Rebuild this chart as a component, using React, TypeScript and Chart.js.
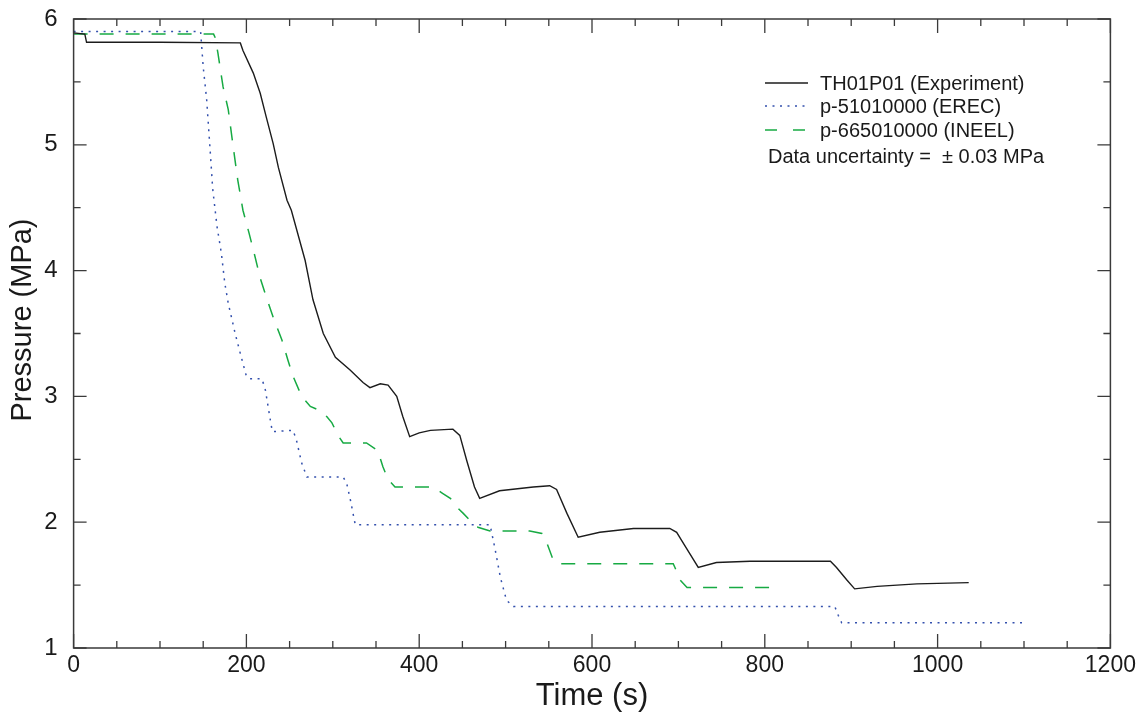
import { useEffect, useRef } from "react";
import { Chart, registerables } from "chart.js";

Chart.register(...registerables);

// ---- Data ----
const expTime = [0, 13, 15, 100, 193, 196, 208, 216, 223, 231, 237, 247, 252, 268, 277, 289, 303, 320, 335, 343, 355, 364, 374, 381, 389, 400, 413, 439, 447, 455, 464, 470, 493, 532, 551, 559, 571, 584, 609, 648, 690, 698, 706, 723, 744, 783, 876, 883, 895, 904, 930, 976, 1036];
const expPressure = [5.89, 5.88, 5.815, 5.815, 5.81, 5.75, 5.57, 5.41, 5.22, 5.01, 4.82, 4.56, 4.48, 4.08, 3.77, 3.5, 3.31, 3.21, 3.11, 3.07, 3.1, 3.09, 3.0, 2.84, 2.68, 2.71, 2.73, 2.74, 2.69, 2.49, 2.28, 2.19, 2.25, 2.28, 2.29, 2.26, 2.07, 1.88, 1.92, 1.95, 1.95, 1.92, 1.83, 1.64, 1.68, 1.69, 1.69, 1.64, 1.54, 1.47, 1.49, 1.51, 1.52];

const erecTime = [0, 147, 150, 154, 158, 161, 166, 171, 175, 179, 187, 193, 200, 204, 218, 222, 227, 230, 254, 258, 264, 270, 312, 316, 320, 326, 482, 488, 494, 501, 509, 881, 885, 889, 1100];
const erecPressure = [5.9, 5.9, 5.62, 5.36, 4.96, 4.65, 4.35, 4.14, 3.9, 3.74, 3.5, 3.34, 3.16, 3.14, 3.14, 3.05, 2.84, 2.72, 2.73, 2.65, 2.47, 2.36, 2.36, 2.31, 2.19, 1.98, 1.98, 1.78, 1.56, 1.38, 1.33, 1.33, 1.26, 1.2, 1.2];

const ineelTime = [0, 162, 164, 167, 173, 179, 185, 190, 196, 203, 210, 216, 223, 231, 241, 248, 254, 264, 274, 281, 293, 299, 306, 312, 339, 352, 358, 364, 372, 416, 427, 436, 445, 451, 461, 468, 482, 528, 542, 548, 554, 559, 694, 696, 702, 710, 815];
const ineelPressure = [5.88, 5.88, 5.85, 5.73, 5.46, 5.28, 4.97, 4.72, 4.48, 4.3, 4.11, 3.94, 3.79, 3.63, 3.45, 3.29, 3.16, 3.0, 2.92, 2.9, 2.84, 2.79, 2.69, 2.63, 2.63, 2.57, 2.44, 2.34, 2.28, 2.28, 2.23, 2.19, 2.11, 2.07, 2.0, 1.96, 1.93, 1.93, 1.91, 1.83, 1.72, 1.67, 1.67, 1.64, 1.54, 1.48, 1.48];

const seriesNames = ["TH01P01 (Experiment)", "p-51010000 (EREC)", "p-665010000 (INEEL)"];
const noteText = "Data uncertainty =  \u00B1 0.03 MPa";

const xMin = 0, xMax = 1200, xMajor = 200, xMinor = 50;
const yMin = 1, yMax = 6, yMajor = 1, yMinor = 0.5;

const FONT = "'Liberation Sans', Arial, Helvetica, sans-serif";
const BLACK = "#1c1c1c";
const BLUE = "#3350ad";
const GREEN = "#17aa43";
const DOT = [2, 5.5];
const DASH = [14, 12];

const toPoints = (xs: number[], ys: number[]) => xs.map((x, i) => ({ x, y: ys[i] }));

const framePlugin = {
  id: "frame",
  afterDatasetsDraw(chart: any) {
    const { ctx, chartArea: a, scales } = chart;
    const xs = scales.x, ys = scales.y;
    ctx.save();
    ctx.strokeStyle = "#3a3a3a";
    ctx.lineWidth = 1.5;
    ctx.beginPath();
    ctx.rect(a.left, a.top, a.right - a.left, a.bottom - a.top);
    ctx.stroke();
    ctx.lineWidth = 1.3;
    ctx.beginPath();
    for (let v = xMin; v <= xMax + 1e-6; v += xMinor) {
      const px = xs.getPixelForValue(v);
      const len = Math.abs(v % xMajor) < 1e-6 ? 14 : 7;
      ctx.moveTo(px, a.bottom); ctx.lineTo(px, a.bottom - len);
      ctx.moveTo(px, a.top); ctx.lineTo(px, a.top + len);
    }
    for (let v = yMin; v <= yMax + 1e-6; v += yMinor) {
      const py = ys.getPixelForValue(v);
      const len = Math.abs((v - yMin) % yMajor) < 1e-6 ? 13 : 7;
      ctx.moveTo(a.left, py); ctx.lineTo(a.left + len, py);
      ctx.moveTo(a.right, py); ctx.lineTo(a.right - len, py);
    }
    ctx.stroke();
    ctx.restore();
  },
  afterDraw(chart: any) {
    const { ctx } = chart;
    ctx.save();
    ctx.fillStyle = "#1a1a1a";
    ctx.font = `29px ${FONT}`;
    ctx.textAlign = "center";
    ctx.textBaseline = "middle";
    ctx.translate(23, 320);
    ctx.rotate(-Math.PI / 2);
    ctx.fillText("Pressure (MPa)", 0, 0);
    ctx.restore();

    ctx.save();
    const colors = [BLACK, BLUE, GREEN];
    const dashes = [[], DOT, [12, 16]];
    const rowsY = [83, 106, 130];
    ctx.font = `20px ${FONT}`;
    ctx.textBaseline = "middle";
    ctx.textAlign = "left";
    seriesNames.forEach((name, i) => {
      ctx.strokeStyle = colors[i];
      ctx.lineWidth = 1.3;
      ctx.setLineDash(dashes[i]);
      ctx.beginPath();
      ctx.moveTo(765, rowsY[i]);
      ctx.lineTo(808, rowsY[i]);
      ctx.stroke();
      ctx.setLineDash([]);
      ctx.fillStyle = "#1a1a1a";
      ctx.fillText(name, 820, rowsY[i] + 1);
    });
    ctx.fillText(noteText, 768, 157);
    ctx.restore();
  },
};

export default function App() {
  const ref = useRef<HTMLCanvasElement>(null);
  useEffect(() => {
    document.body.style.margin = "0";
    const tickColor = "#1a1a1a";
    const chart = new Chart(ref.current as HTMLCanvasElement, {
      type: "line",
      data: {
        datasets: [
          { label: seriesNames[0], data: toPoints(expTime, expPressure), borderColor: BLACK, borderWidth: 1.4, pointRadius: 0, tension: 0 },
          { label: seriesNames[1], data: toPoints(erecTime, erecPressure), borderColor: BLUE, borderWidth: 1.5, borderDash: DOT, pointRadius: 0, tension: 0 },
          { label: seriesNames[2], data: toPoints(ineelTime, ineelPressure), borderColor: GREEN, borderWidth: 1.5, borderDash: DASH, pointRadius: 0, tension: 0 },
        ],
      },
      options: {
        responsive: false,
        animation: false,
        events: [],
        layout: { padding: { left: 0, right: 32.6, top: 19, bottom: 0 } },
        scales: {
          x: {
            type: "linear",
            min: xMin,
            max: xMax,
            ticks: { stepSize: xMajor, font: { size: 23, family: FONT }, color: tickColor, padding: 4, maxRotation: 0, callback: (v: any) => String(v) },
            grid: { display: false, drawTicks: false },
            border: { display: false },
            title: { display: true, text: "Time (s)", font: { size: 31, family: FONT }, color: "#1a1a1a", padding: { top: 0, bottom: 4 } },
            afterFit: (s: any) => { s.height = 71; s.paddingLeft = 0; s.paddingRight = 0; },
          },
          y: {
            type: "linear",
            min: yMin,
            max: yMax,
            ticks: { stepSize: yMajor, font: { size: 24, family: FONT }, color: tickColor, padding: 16, callback: (v: any) => String(v) },
            grid: { display: false, drawTicks: false },
            border: { display: false },
            afterFit: (s: any) => { s.width = 73.6; s.paddingTop = 0; s.paddingBottom = 0; },
          },
        },
        plugins: { legend: { display: false }, tooltip: { enabled: false } },
      },
      plugins: [framePlugin],
    } as any);
    return () => chart.destroy();
  }, []);
  return (
    <div style={{ width: 1143, height: 719 }}>
      <canvas ref={ref} width={1143} height={719} style={{ display: "block", width: 1143, height: 719 }} />
    </div>
  );
}
